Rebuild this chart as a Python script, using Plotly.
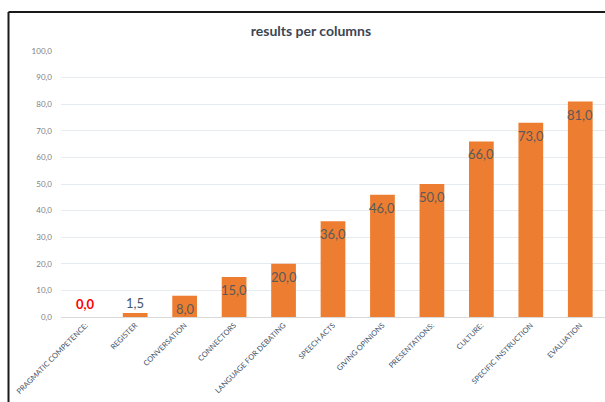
import plotly.graph_objects as go

# Chart data
categories = [
    "PRAGMATIC COMPETENCE:", "REGISTER", "CONVERSATION", "CONNECTORS",
    "LANGUAGE FOR DEBATING", "SPEECH ACTS", "GIVING OPINIONS",
    "PRESENTATIONS:", "CULTURE:", "SPECIFIC INSTRUCTION", "EVALUATION",
]
values = [0.0, 1.5, 8.0, 15.0, 20.0, 36.0, 46.0, 50.0, 66.0, 73.0, 81.0]
y_ticks = [0, 10, 20, 30, 40, 50, 60, 70, 80, 90, 100]
y_tick_labels = ["0,0", "10,0", "20,0", "30,0", "40,0", "50,0",
                 "60,0", "70,0", "80,0", "90,0", "100,0"]

BAR = "#ED7D31"
FONT = "Lato, 'Open Sans', sans-serif"

def fmt(v):
    return f"{v:.1f}".replace(".", ",")

fig = go.Figure(go.Bar(
    x=categories, y=values,
    marker=dict(color=BAR, line=dict(width=0)),
    width=0.5, hoverinfo="skip",
))

# Value labels: small values sit above the bar, the rest inside the bar top
for cat, v in zip(categories, values):
    if v == 0:
        fig.add_annotation(x=cat, y=v, text="<b>" + fmt(v) + "</b>", showarrow=False,
                           yanchor="bottom", yshift=3,
                           font=dict(family=FONT, size=13, color="#FF0000"))
    elif v < 5:
        fig.add_annotation(x=cat, y=v, text=fmt(v), showarrow=False,
                           yanchor="bottom", yshift=0,
                           font=dict(family=FONT, size=13, color="#44546A"))
    else:
        fig.add_annotation(x=cat, y=v, text=fmt(v), showarrow=False,
                           yanchor="top", yshift=-3,
                           font=dict(family=FONT, size=13, color="#5A5A5A"))

# Chart frame: left and top edges only
fig.add_shape(type="line", xref="paper", yref="paper",
              x0=-0.0965, x1=-0.0965, y0=-0.33, y1=1.1466,
              line=dict(color="#1a1a1a", width=2))
fig.add_shape(type="line", xref="paper", yref="paper",
              x0=-0.0965, x1=1.0, y0=1.1466, y1=1.1466,
              line=dict(color="#1a1a1a", width=2))

fig.update_layout(
    width=605, height=402,
    margin=dict(l=61, r=0, t=51, b=85),
    paper_bgcolor="white", plot_bgcolor="white",
    showlegend=False, bargap=0.5,
    title=dict(text="<b>results per columns</b>", x=0.514, xanchor="center",
               y=1 - 31 / 402, yanchor="middle",
               font=dict(family=FONT, size=14, color="#3B4654")),
    xaxis=dict(tickangle=-45, tickfont=dict(family=FONT, size=7.5, color="#44546A"),
               showgrid=False, showline=True, linecolor="#D9D9D9", linewidth=1,
               ticks="", fixedrange=True),
    yaxis=dict(range=[0, 100], tickvals=y_ticks, ticktext=y_tick_labels,
               tickfont=dict(family=FONT, size=8, color="#7F7F7F"),
               ticklabelstandoff=8,
               showgrid=True, gridcolor="#E6EBF0", gridwidth=1,
               zeroline=False, showline=False, ticks="", ticklen=0,
               fixedrange=True),
)

fig.write_html("out.html", config={"displayModeBar": False})
